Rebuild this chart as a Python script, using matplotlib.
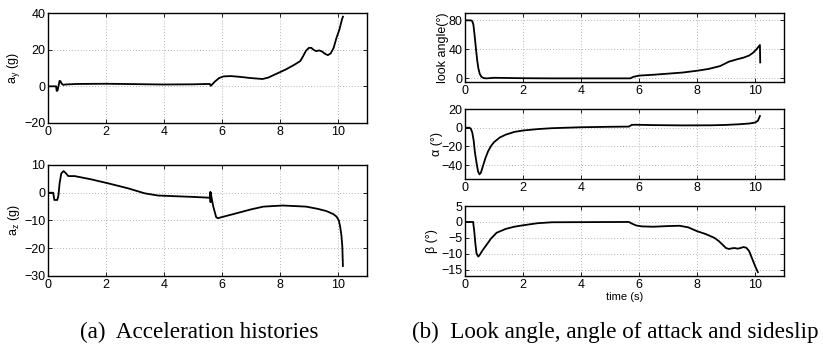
#!/usr/bin/env python3
"""
Acceleration and angle histories, MATLAB-style subplot layout
"""
import matplotlib
matplotlib.use('Agg')
import matplotlib.pyplot as plt

plt.rcParams['font.family'] = ['Liberation Sans', 'DejaVu Sans']
plt.rcParams['font.size'] = 9
plt.rcParams['axes.linewidth'] = 1.0

#--------------------------------------
# Data
#--------------------------------------
t_ay = [0, 0.28, 0.30, 0.33, 0.36, 0.40, 0.43, 0.47, 0.52, 0.6, 1.0, 2.0, 3.0,
        4.0, 5.0, 5.58, 5.61, 5.65, 5.75, 5.9, 6.05, 6.3, 6.6, 7.0, 7.4, 7.6,
        7.9, 8.2, 8.5, 8.7, 8.8, 8.9, 9.0, 9.08, 9.17, 9.25, 9.35, 9.45, 9.55,
        9.65, 9.75, 9.85, 9.95, 10.05, 10.13, 10.17]
ay = [0, 0, -2.5, -2.3, 0, 3.0, 2.8, 1.5, 0.8, 1.0, 1.3, 1.4, 1.2,
      1.0, 1.1, 1.3, 0.3, 0.8, 2.5, 4.5, 5.4, 5.6, 5.2, 4.5, 4.0, 4.8,
      7.0, 9.2, 11.8, 13.8, 16.5, 19.5, 21.0, 21.0, 19.8, 19.2, 19.6, 19.0, 17.8,
      17.0, 18.0, 21.0, 26.5, 31.0, 36.0, 38.0]

t_az = [0, 0.18, 0.22, 0.32, 0.36, 0.40, 0.46, 0.54, 0.62, 0.70, 0.92, 1.5,
        2.07, 2.76, 3.33, 3.79, 4.5, 5.0, 5.58, 5.60, 5.605, 5.61, 5.70, 5.80,
        5.86, 5.95, 6.39, 7.0, 7.43, 8.1, 8.9, 9.3, 9.6, 9.84, 9.95, 10.03,
        10.08, 10.12, 10.15, 10.17]
az = [0, 0, -2.6, -2.6, -1.0, 3.4, 7.0, 7.8, 7.0, 6.0, 6.0, 4.8,
      3.4, 1.6, -0.2, -1.0, -1.3, -1.5, -1.8, 0.3, -3.4, 0.0, -5.0, -8.8,
      -9.2, -8.9, -7.7, -6.0, -5.0, -4.6, -5.0, -5.8, -6.6, -7.7, -8.6, -10.0,
      -12.5, -15.5, -19.4, -26.4]

t_look = [0, 0.2, 0.25, 0.29, 0.33, 0.38, 0.42, 0.46, 0.51, 0.57, 0.65, 0.75,
          1.0, 2.0, 3.0, 4.0, 5.0, 5.7, 5.8, 6.0, 6.5, 7.0, 7.5, 8.0, 8.4,
          8.8, 9.0, 9.1, 9.4, 9.6, 9.8, 9.94, 10.05, 10.17, 10.18]
look = [80, 80, 79, 74, 60, 40, 25, 14, 6, 2, 0.3, 0,
        0.8, 0.2, 0, 0, 0, 0, 2.0, 3.8, 5.0, 6.5, 8.0, 10.5, 13.0,
        17.0, 21.0, 23.0, 26.5, 28.5, 31.5, 35.5, 40.0, 46.0, 22.0]

t_alpha = [0, 0.15, 0.2, 0.25, 0.3, 0.34, 0.4, 0.45, 0.5, 0.55, 0.6, 0.7,
           0.8, 0.9, 1.0, 1.2, 1.4, 1.7, 2.0, 2.5, 3.0, 3.5, 4.0, 5.0, 5.65,
           5.75, 5.85, 6.5, 7.5, 8.5, 9.0, 9.5, 9.8, 10.0, 10.1, 10.17]
alpha = [0, 0, -1, -5, -14, -26, -38, -47, -50, -48, -43, -33,
         -25, -19.5, -15.5, -10.5, -7.5, -4.5, -3, -1.5, -0.5, 0, 0.5, 1, 1.2,
         3, 3.2, 2.8, 2.5, 2.6, 3, 3.8, 4.5, 5.5, 7.5, 12.5]

t_beta = [0, 0.28, 0.32, 0.36, 0.40, 0.46, 0.52, 0.6, 0.75, 0.9, 1.09, 1.4,
          1.7, 2.0, 2.5, 3.0, 5.65, 5.75, 5.9, 6.1, 6.5, 7.0, 7.4, 7.7, 8.0,
          8.3, 8.6, 8.75, 8.9, 9.0, 9.1, 9.2, 9.3, 9.4, 9.5, 9.6, 9.7, 9.8,
          9.9, 10.0, 10.1]
beta = [0, 0, -3, -7, -10, -10.9, -10.2, -9, -7.1, -5.2, -3.4, -2.2,
        -1.5, -1.05, -0.4, -0.1, 0, -0.5, -1.1, -1.4, -1.5, -1.3, -1.2, -1.7, -2.9,
        -3.8, -5.0, -6.0, -7.3, -8.2, -8.5, -8.3, -8.2, -8.4, -8.2, -7.9, -8.1, -9.2,
        -11.5, -13.8, -15.8]

xticks = [0, 2, 4, 6, 8, 10]

#--------------------------------------
# Helpers
#--------------------------------------
def MatlabAxes(fig, rect, t, y, ylim, yticks, ylabel, labelx):
    """
    One boxed subplot with dotted grid and inward ticks
    """
    ax = fig.add_axes(rect)
    ax.plot(t, y, color='k', lw=1.3)
    ax.set_xlim(0, 11)
    ax.set_ylim(*ylim)
    ax.set_xticks(xticks)
    ax.set_yticks(yticks)
    ax.grid(True, linestyle=(0, (1, 2.5)), color='#9a9a9a', lw=0.6)
    ax.tick_params(direction='in', length=3, width=0.6, top=True, right=True,
                   labelsize=9, pad=2)
    ax.set_ylabel(ylabel, fontsize=9)
    ax.yaxis.set_label_coords(labelx, 0.5)
    return ax

#--------------------------------------
# Figure
#--------------------------------------
fig = plt.figure(figsize=(8.23, 3.48), dpi=100)

# (a) accelerations
MatlabAxes(fig, [0.0583, 0.6466, 0.3876, 0.316], t_ay, ay, (-20, 40),
           [-20, 0, 20, 40], r'$\mathregular{a_y}$ (g)', -0.08)
MatlabAxes(fig, [0.0583, 0.2069, 0.3876, 0.319], t_az, az, (-30, 10),
           [-30, -20, -10, 0, 10], r'$\mathregular{a_z}$ (g)', -0.08)

# (b) look angle, alpha, beta
MatlabAxes(fig, [0.565, 0.7644, 0.3876, 0.198], t_look, look, (-5, 90),
           [0, 40, 80], 'look angle(°)', -0.05)
MatlabAxes(fig, [0.565, 0.4856, 0.3876, 0.201], t_alpha, alpha, (-55, 20),
           [-40, -20, 0, 20], 'α (°)', -0.07)
axb = MatlabAxes(fig, [0.565, 0.2069, 0.3876, 0.201], t_beta, beta, (-17, 5),
                 [-15, -10, -5, 0, 5], 'β (°)', -0.085)
axb.set_xlabel('time (s)', fontsize=8, labelpad=1)

# captions
cap = dict(family=['Liberation Serif', 'DejaVu Serif'], fontsize=16.7,
           ha='center', va='baseline')
fig.text(199 / 823, 1 - 338 / 348, '(a)  Acceleration histories', **cap)
fig.text(615 / 823, 1 - 338 / 348, '(b)  Look angle, angle of attack and sideslip', **cap)

fig.savefig('out.png', dpi=100)
